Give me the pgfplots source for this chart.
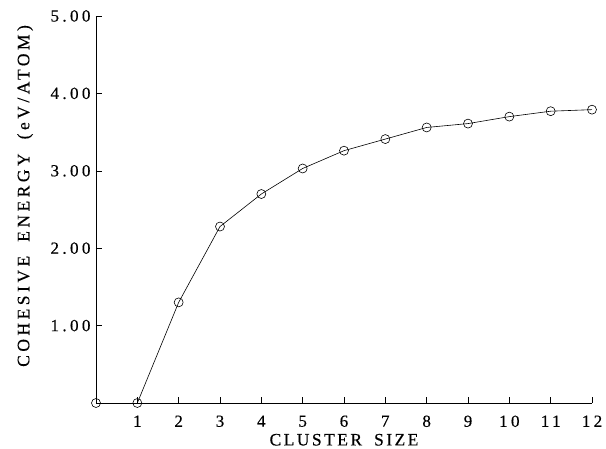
\documentclass[border=0pt]{standalone}
\usepackage{fontspec}
\setmainfont{Liberation Serif}
\newfontfamily\labfont[LetterSpace=14,FakeBold=0.3]{Liberation Serif}
\newfontfamily\ylabfont[LetterSpace=20,FakeBold=0.3]{Liberation Serif}
\newfontfamily\tickfont[LetterSpace=20,FakeBold=0.3]{Liberation Serif}
\usepackage{pgfplots}
\pgfplotsset{compat=1.18}
\begin{document}
\begin{tikzpicture}
\begin{axis}[
    scale only axis,
    width=496pt,
    height=387pt,
    xmin=0, xmax=12,
    ymin=0, ymax=5,
    axis lines*=left,
    xtick pos=bottom,
    ytick pos=left,
    axis line style={-, line width=0.6pt},
    xtick={1,...,12},
    ytick={1,...,5},
    yticklabel={\pgfmathprintnumber[fixed,fixed zerofill,precision=2]{\tick}},
    /pgf/number format/assume math mode=true,
    tick align=inside,
    major tick length=6pt,
    tick style={black, line width=0.6pt},
    tick label style={font=\tickfont\fontsize{17}{17}\selectfont},
    xticklabel style={yshift=-9pt},
    yticklabel style={xshift=-2pt},
    xlabel={\labfont\fontsize{17.5}{17.5}\selectfont CLUSTER\hspace{12pt}SIZE},
    ylabel={\ylabfont\fontsize{17.5}{17.5}\selectfont COHESIVE\hspace{14pt}ENERGY\hspace{14pt}(eV/ATOM)},
    xlabel style={at={(axis description cs:0.5,-0.095)}, anchor=center},
    ylabel style={at={(axis description cs:-0.143,0.535)}, anchor=center},
    clip=false,
]
\addplot[black, line width=0.6pt, mark=o, mark size=4.5pt, mark options={line width=0.6pt}] coordinates {
    (1,0.00)
    (2,1.30)
    (3,2.28)
    (4,2.70)
    (5,3.03)
    (6,3.26)
    (7,3.41)
    (8,3.56)
    (9,3.61)
    (10,3.70)
    (11,3.77)
    (12,3.79)
};
\addplot[black, only marks, mark=o, mark size=4.5pt, mark options={line width=0.6pt}] coordinates {
    (0,0)
};
\end{axis}
\path (current axis.south west) ++(-96pt,-45pt) rectangle ++(606pt,448pt);
\end{tikzpicture}
\end{document}
